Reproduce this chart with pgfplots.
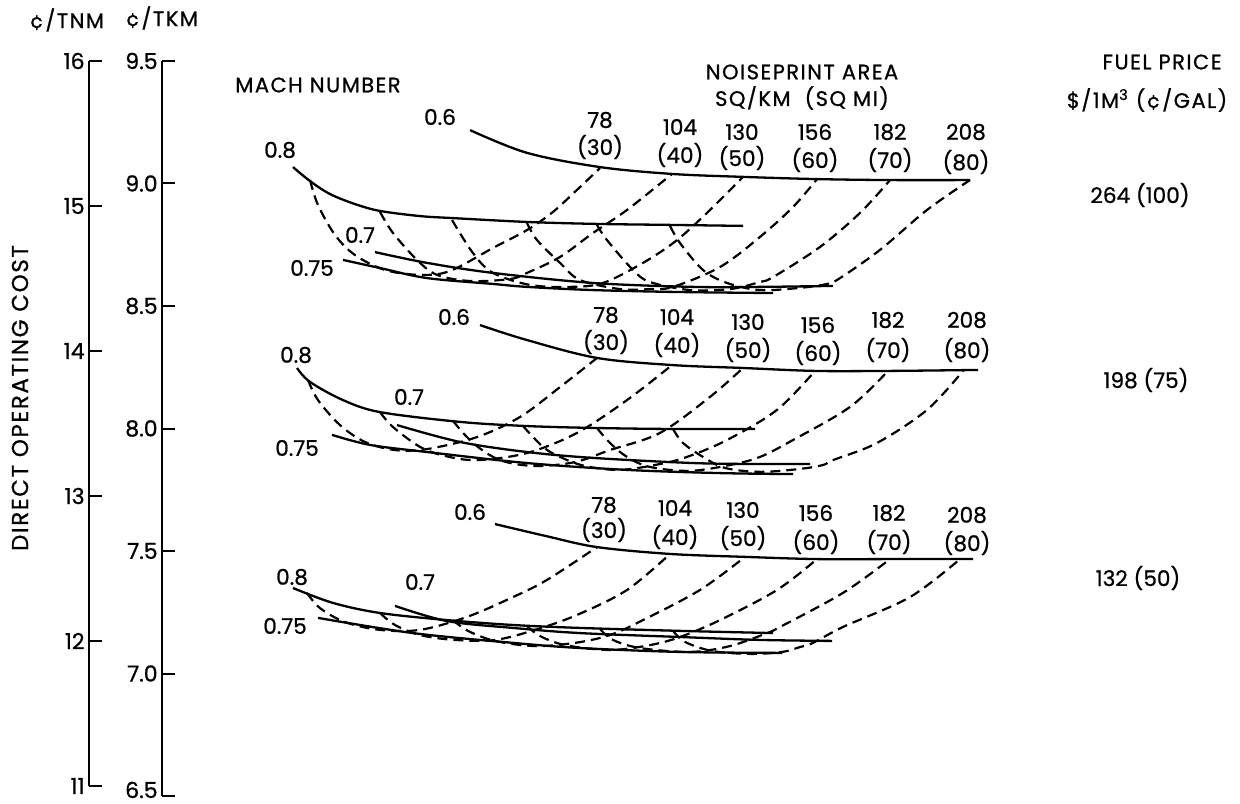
\documentclass[border=0pt]{standalone}
\usepackage{fontspec}
\setmainfont{Poppins}[RawFeature={embolden=0.8}]
\newfontfamily\capsfont{Poppins}[LetterSpace=7, RawFeature={embolden=0.8}]
\usepackage{pgfplots}
\pgfplotsset{compat=1.18}
\newcommand\lbl{\fontsize{10.8}{12}\selectfont}
\newcommand\caps{\capsfont\fontsize{10.5}{12}\selectfont}

\begin{document}
\begin{tikzpicture}[font=\lbl]
\pgfplotsset{
  costscale/.style={scale only axis, axis x line=none, axis y line=left,
    axis line style={-, line width=1pt}, tick align=inside,
    major tick length=6.5pt, tick style={black, line width=1pt},
    yticklabel style={font=\fontsize{11}{12}\selectfont, inner sep=2pt}, clip=false},
  mach/.style={black, line width=1.15pt, smooth, tension=0.55},
  noise/.style={black, line width=1.1pt, dash pattern=on 5pt off 3pt, smooth, tension=0.55},
}
% cents per tonne nautical mile
\begin{axis}[costscale, at={(44.5pt,8.5pt)}, anchor=south west, width=5pt, height=362.5pt,
  xmin=0, xmax=1, ymin=11, ymax=16, ytick={11,12,13,14,15,16},
  yticklabels={11,12,13,14,15,16}]
\end{axis}
% cents per tonne km; x is the carpet offset in picture units
\begin{axis}[costscale, at={(81pt,3.5pt)}, anchor=south west, width=539pt, height=367.5pt,
  xmin=162, xmax=1240, ymin=6.5, ymax=9.5, ytick={6.5,7,7.5,8,8.5,9,9.5},
  yticklabels={\raisebox{-1pt}[0pt][0pt]{6.5},7.0,7.5,8.0,8.5,9.0,9.5}]
% ---- fuel 264 (100)
\addplot[mach] coordinates {(470,9.218) (527,9.125) (600,9.067) (672,9.039) (743,9.027) (817,9.018) (890,9.014) (970,9.014)};
\addplot[mach] coordinates {(293,9.067) (310,9.010) (330,8.957) (355,8.916) (380,8.888) (420,8.867) (452,8.859) (527,8.843) (597,8.835) (670,8.831) (743,8.827)};
\addplot[mach] coordinates {(375,8.720) (427,8.676) (493,8.635) (593,8.594) (693,8.578) (760,8.578) (833,8.582)};
\addplot[mach] coordinates {(343,8.688) (380,8.655) (427,8.614) (493,8.590) (527,8.578) (593,8.565) (680,8.557) (773,8.553)};
\addplot[noise] coordinates {(310,9.014) (318,8.912) (335,8.790) (355,8.708) (385,8.647) (420,8.627) (450,8.643) (493,8.737) (527,8.810) (553,8.884) (577,8.974) (600,9.063)};
\addplot[noise] coordinates {(380,8.884) (393,8.798) (417,8.688) (437,8.627) (470,8.602) (510,8.610) (527,8.635) (560,8.700) (593,8.798) (627,8.892) (672,9.039)};
\addplot[noise] coordinates {(452,8.851) (473,8.716) (493,8.635) (530,8.586) (570,8.578) (603,8.594) (643,8.676) (677,8.769) (710,8.892) (743,9.027)};
\addplot[noise] coordinates {(527,8.839) (537,8.769) (560,8.676) (580,8.606) (620,8.569) (650,8.569) (673,8.578) (720,8.659) (760,8.782) (793,8.904) (817,9.018)};
\addplot[noise] coordinates {(597,8.831) (607,8.769) (633,8.647) (650,8.598) (690,8.565) (730,8.569) (760,8.598) (773,8.618) (820,8.741) (860,8.880) (890,9.014)};
\addplot[noise] coordinates {(670,8.827) (680,8.757) (703,8.647) (727,8.594) (760,8.565) (800,8.574) (827,8.590) (840,8.614) (880,8.729) (927,8.892) (970,9.014)};
% ---- fuel 198 (75)
\addplot[mach] coordinates {(480,8.422) (527,8.361) (597,8.288) (672,8.259) (743,8.247) (815,8.235) (888,8.235) (978,8.239)};
\addplot[mach] coordinates {(297,8.247) (310,8.190) (343,8.116) (380,8.067) (460,8.027) (527,8.010) (597,8.002) (673,7.998) (755,7.998)};
\addplot[mach] coordinates {(397,8.014) (460,7.945) (527,7.904) (593,7.880) (693,7.859) (760,7.855) (810,7.855)};
\addplot[mach] coordinates {(332,7.974) (370,7.933) (427,7.904) (527,7.859) (627,7.831) (720,7.818) (793,7.814)};
\addplot[noise] coordinates {(308,8.198) (318,8.116) (340,8.014) (365,7.945) (395,7.912) (427,7.916) (477,7.965) (520,8.047) (560,8.169) (597,8.288)};
\addplot[noise] coordinates {(380,8.067) (393,8.006) (420,7.925) (445,7.888) (477,7.871) (527,7.900) (577,7.982) (627,8.116) (672,8.259)};
\addplot[noise] coordinates {(453,8.031) (473,7.941) (500,7.871) (535,7.847) (575,7.863) (610,7.912) (660,7.982) (710,8.129) (743,8.247)};
\addplot[noise] coordinates {(523,8.010) (543,7.925) (560,7.884) (585,7.847) (620,7.831) (660,7.855) (687,7.884) (727,7.953) (777,8.076) (815,8.235)};
\addplot[noise] coordinates {(597,8.002) (610,7.941) (627,7.884) (650,7.843) (690,7.827) (730,7.851) (760,7.884) (793,7.953) (850,8.088) (888,8.235)};
\addplot[noise] coordinates {(673,7.998) (683,7.941) (703,7.884) (725,7.839) (760,7.823) (800,7.835) (823,7.851) (833,7.871) (877,7.941) (927,8.076) (963,8.235)};
% ---- fuel 132 (50)
\addplot[mach] coordinates {(495,7.610) (546,7.561) (597,7.516) (670,7.488) (745,7.476) (817,7.467) (890,7.467) (973,7.467)};
\addplot[mach] coordinates {(293,7.349) (333,7.288) (380,7.247) (447,7.218) (513,7.198) (580,7.186) (680,7.174) (773,7.165)};
\addplot[mach] coordinates {(395,7.276) (447,7.214) (513,7.186) (580,7.165) (680,7.149) (760,7.137) (832,7.133)};
\addplot[mach] coordinates {(318,7.227) (413,7.165) (513,7.125) (580,7.104) (680,7.088) (782,7.084)};
\addplot[noise] coordinates {(307,7.329) (320,7.267) (345,7.210) (380,7.178) (420,7.178) (467,7.231) (513,7.312) (547,7.382) (597,7.516)};
\addplot[noise] coordinates {(380,7.247) (395,7.198) (420,7.157) (455,7.137) (495,7.137) (535,7.178) (577,7.239) (627,7.341) (670,7.488)};
\addplot[noise] coordinates {(453,7.218) (468,7.174) (495,7.133) (535,7.112) (575,7.125) (610,7.157) (643,7.218) (700,7.341) (745,7.476)};
\addplot[noise] coordinates {(527,7.194) (540,7.153) (565,7.116) (610,7.096) (650,7.116) (680,7.149) (720,7.218) (777,7.341) (817,7.467)};
\addplot[noise] coordinates {(600,7.182) (613,7.137) (640,7.104) (690,7.088) (730,7.112) (767,7.165) (780,7.190) (843,7.329) (890,7.467)};
\addplot[noise] coordinates {(673,7.174) (685,7.129) (712,7.092) (750,7.080) (782,7.088) (800,7.108) (813,7.125) (843,7.190) (910,7.312) (960,7.467)};
\end{axis}

% text, placed in picture units (origin top left)
\begin{scope}[x=0.5pt, y=-0.5pt, yshift=401.5pt]
\node[font=\caps] at (67,20) {¢/TNM};
\node[font=\caps] at (162,18) {¢/TKM};
\node[rotate=90, font=\capsfont\fontsize{11.5}{12}\selectfont] at (20,398) {DIRECT OPERATING COST};
\node[font=\caps] at (318,85) {MACH NUMBER};
\node[font=\caps] at (802,72) {NOISEPRINT AREA};
\node[font=\caps] at (802,98) {SQ/KM\ \ (SQ MI)};
\node[font=\caps] at (1162,62) {FUEL PRICE};
\node[font=\caps] at (1147,100) {\$/1M\textsuperscript{3} (¢/GAL)};
\node at (1140,195) {264 (100)};
\node at (1146,380) {198 (75)};
\node at (1138,578) {132 (50)};
% mach labels
\node at (440,117) {0.6}; \node at (280,150) {0.8}; \node at (360,235) {0.7}; \node at (312,268) {0.75};
\node at (454,317) {0.6}; \node at (296,355) {0.8}; \node at (409,397) {0.7}; \node at (297,448) {0.75};
\node at (470,512) {0.6}; \node at (292,577) {0.8}; \node at (420,582) {0.7}; \node at (285,626) {0.75};
% noiseprint labels
\foreach \x/\ya/\yb/\n/\m in {600/120/147/78/30, 680/127/155/104/40, 742/132/158/130/50,
    815/132/160/156/60, 890/132/160/182/70, 966/132/162/208/80,
    606/315/342/78/30, 677/317/345/104/40, 748/322/350/130/50,
    818/325/353/156/60, 888/320/350/182/70, 967/320/350/208/80,
    604/505/530/78/30, 675/508/537/104/40, 743/510/538/130/50,
    816/513/542/156/60, 889/513/542/182/70, 967/515/543/208/80}
  {\node at (\x,\ya) {\n}; \node at (\x,\yb) {(\m)};}
\end{scope}
\pgfresetboundingbox
\path (0,0) rectangle (620pt,401.5pt);
\end{tikzpicture}
\end{document}
